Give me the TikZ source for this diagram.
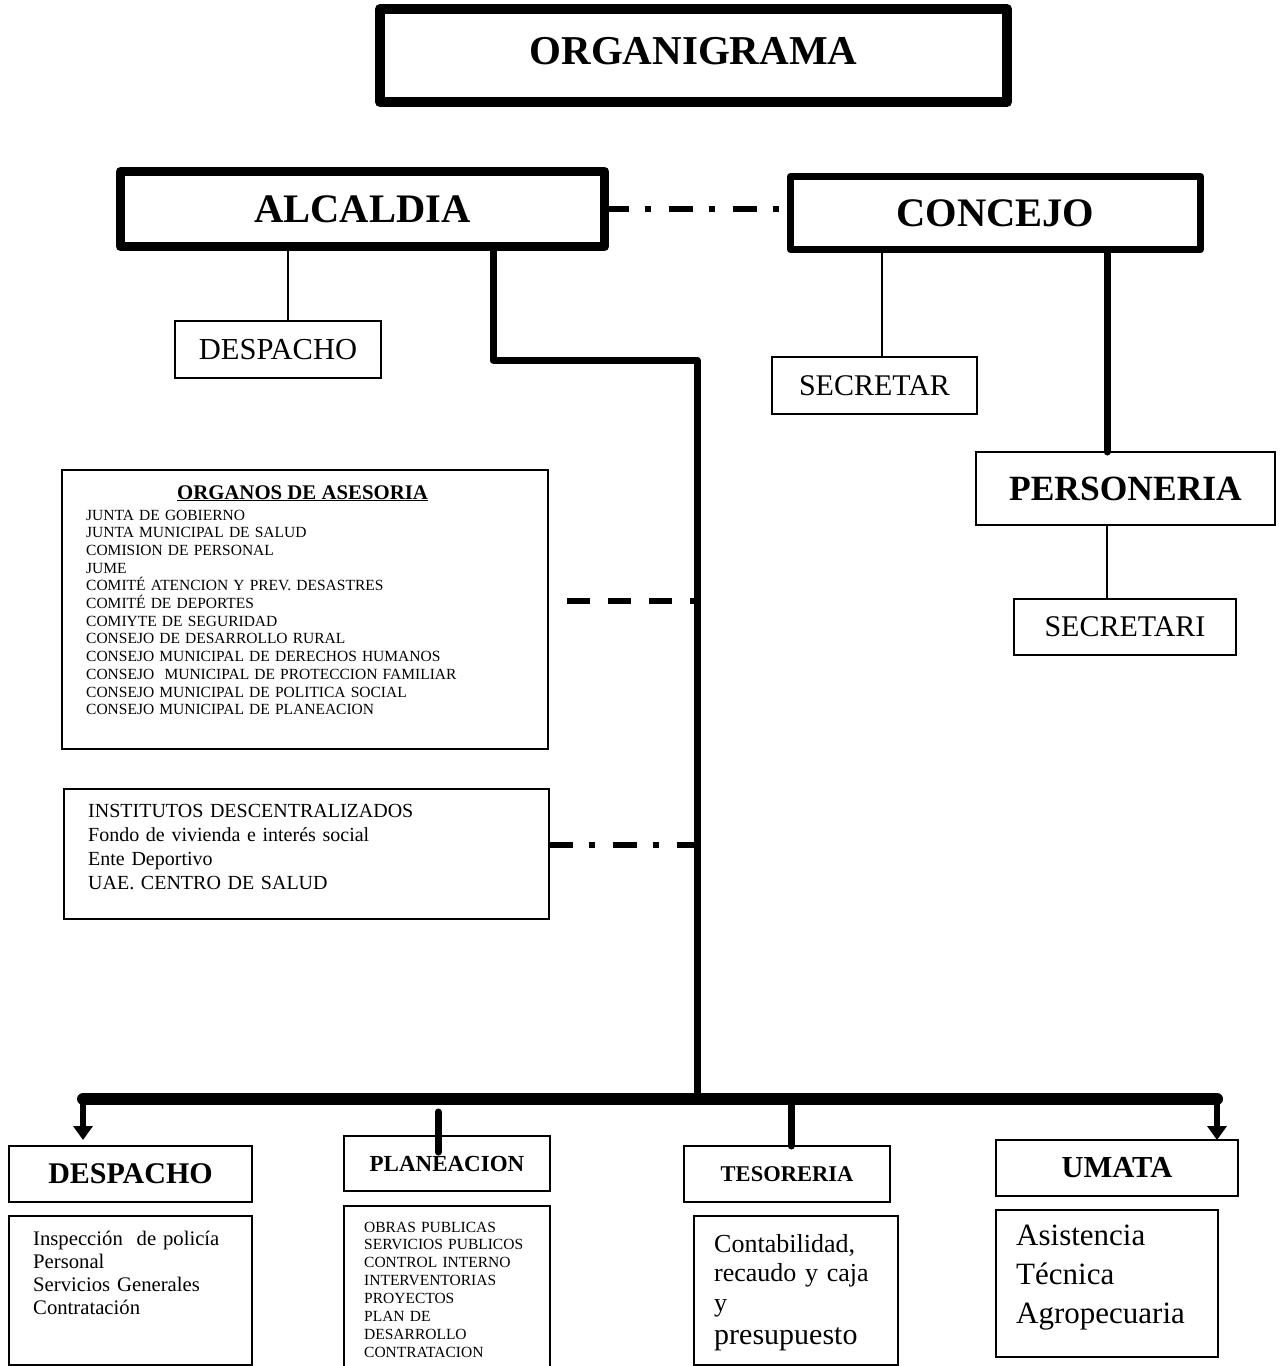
\documentclass[tikz,border=0pt]{standalone}
\usepackage{fontspec}
\setmainfont{Liberation Serif}
\usetikzlibrary{arrows.meta}

\begin{document}
\begin{tikzpicture}[x=1pt,y=-1pt,
		box/.style={draw,line width=1.8pt,inner sep=0pt,outer sep=0pt},
		heavy/.style={box,line width=#1,line join=round},
		titulo/.style={font=\fontsize{40.5}{44}\selectfont\bfseries},
		lista/.style={anchor=base west,inner sep=0pt,align=left,text width=#1},
		bus/.style={line width=12pt,line cap=round},
		rama/.style={line width=7pt,line cap=round,line join=round},
		baja/.style={line width=6pt,-{Triangle[width=19pt,length=14pt]}},
		guion/.style={line width=6pt,dash pattern=on 23pt off 18pt},
		guionpunto/.style={line width=6pt,dash pattern=on 24pt off 16pt on 6pt off 18pt},
		fino/.style={line width=1.5pt}]
			\useasboundingbox (0,0) rectangle (1281,1366);
			\node[heavy=10pt,minimum width=627pt,minimum height=93pt,font=\fontsize{41}{45}\selectfont\bfseries,text depth=10pt] (organigrama) at (693.5,55.5) {ORGANIGRAMA};
			\node[heavy=9pt,minimum width=484pt,minimum height=75pt,titulo] (alcaldia) at (362.5,209) {ALCALDIA};
			\node[heavy=7pt,minimum width=410pt,minimum height=73pt,titulo] (concejo) at (995.5,213) {CONCEJO};
			\node[box,line width=1.5pt,minimum width=206pt,minimum height=57pt,font=\fontsize{30.5}{34}\selectfont] (despachoA) at (278,349.5) {DESPACHO};
			\node[box,line width=1.5pt,minimum width=205pt,minimum height=57pt,font=\fontsize{30}{34}\selectfont] (secretar) at (874.5,385.5) {SECRETAR};
			\node[box,line width=1.5pt,minimum width=299pt,minimum height=73pt,font=\fontsize{35.5}{40}\selectfont\bfseries] (personeria) at (1125.5,488.5) {PERSONERIA};
			\node[box,line width=1.5pt,minimum width=222pt,minimum height=56pt,font=\fontsize{30}{34}\selectfont] (secretari) at (1125,627) {SECRETARI};
			\node[box,line width=1.5pt,minimum width=486pt,minimum height=279pt] (asesoria) at (305,609.5) {};
			\node[anchor=base,inner sep=0pt,font=\fontsize{20.8}{24}\selectfont\bfseries] (asesoriaTit) at (302.5,499) {\underline{ORGANOS DE ASESORIA}};
			\node[lista=440pt,font=\fontsize{15.5}{17.7}\selectfont] (asesoriaTxt) at (86,520) {JUNTA DE GOBIERNO\\JUNTA MUNICIPAL DE SALUD\\COMISION DE PERSONAL\\JUME\\COMITÉ ATENCION Y PREV. DESASTRES\\COMITÉ DE DEPORTES\\COMIYTE DE SEGURIDAD\\CONSEJO DE DESARROLLO RURAL\\CONSEJO MUNICIPAL DE DERECHOS HUMANOS\\CONSEJO\ \ MUNICIPAL DE PROTECCION FAMILIAR\\CONSEJO MUNICIPAL DE POLITICA SOCIAL\\CONSEJO MUNICIPAL DE PLANEACION};
			\node[box,line width=1.5pt,minimum width=485pt,minimum height=130pt] (institutos) at (306.5,854) {};
			\node[lista=440pt,font=\fontsize{20}{24.3}\selectfont] (institutosTxt) at (88,817) {INSTITUTOS DESCENTRALIZADOS\\Fondo de vivienda e interés social\\Ente Deportivo\\UAE. CENTRO DE SALUD};
			\node[box,minimum width=243pt,minimum height=56pt,font=\fontsize{30}{34}\selectfont\bfseries] (despachoB) at (130.5,1174) {DESPACHO};
			\node[box,minimum width=243pt,minimum height=149pt] (despachoLista) at (130.5,1290.5) {};
			\node[lista=215pt,font=\fontsize{20.7}{23.3}\selectfont] (despachoTxt) at (33,1245) {Inspección\ \ de policía\\Personal\\Servicios Generales\\Contratación};
			\node[box,minimum width=206pt,minimum height=55pt,font=\fontsize{23}{26}\selectfont\bfseries] (planeacion) at (447,1163.5) {PLANEACION};
			\node[box,minimum width=206pt,minimum height=166pt] (planeacionLista) at (447,1289) {};
			\node[lista=180pt,font=\fontsize{15.5}{17.9}\selectfont] (planeacionTxt) at (364,1232) {OBRAS PUBLICAS\\SERVICIOS PUBLICOS\\CONTROL INTERNO\\INTERVENTORIAS\\PROYECTOS\\PLAN DE\\DESARROLLO\\CONTRATACION};
			\node[box,minimum width=206pt,minimum height=56pt,font=\fontsize{22.5}{26}\selectfont\bfseries] (tesoreria) at (787,1174) {TESORERIA};
			\node[box,minimum width=204pt,minimum height=149pt] (tesoreriaLista) at (796,1290.5) {};
			\node[lista=180pt,font=\fontsize{26}{29.5}\selectfont] (tesoreriaTxt) at (714,1252) {Contabilidad,\\recaudo y caja\\y\\[3.5pt]{\fontsize{30}{33}\selectfont presupuesto}};
			\node[box,minimum width=242pt,minimum height=56pt,font=\fontsize{30.5}{34}\selectfont\bfseries] (umata) at (1117,1168) {UMATA};
			\node[box,minimum width=222pt,minimum height=147pt] (umataLista) at (1107,1283.5) {};
			\node[lista=200pt,font=\fontsize{31}{39}\selectfont] (umataTxt) at (1016,1245) {Asistencia\\Técnica\\Agropecuaria};
			\coordinate (codo) at (697,360);
			\coordinate (cruce) at (697,1099);
			\coordinate (busL) at (83,1099);
			\coordinate (busR) at (1217,1099);
			\coordinate (tapA) at (697,601);
			\coordinate (asesoriaFin) at (567,601);
			\coordinate (tapI) at (697,845);
			\draw[guionpunto] (alcaldia.east) -- (alcaldia.east -| concejo.west);
			\draw[fino] ([xshift=10pt]despachoA.north) -- ([xshift=10pt]despachoA.north |- alcaldia.south);
			\draw[fino] ([xshift=7.5pt]secretar.north) -- ([xshift=7.5pt]secretar.north |- concejo.south);
			\draw[rama] ([xshift=-18.5pt]personeria.north) -- ([xshift=-18.5pt]personeria.north |- concejo.south);
			\draw[fino] ([xshift=-18.5pt]personeria.south) -- ([xshift=-18.5pt]personeria.south |- secretari.north);
			\draw[rama] ([xshift=130.5pt]alcaldia.south) |- (codo) -- (cruce);
			\draw[guion] (asesoriaFin) -- (tapA);
			\draw[guionpunto] (institutos.east |- tapI) -- (tapI);
			\draw[bus] (busL) -- (busR);
			\draw[baja,shorten >=6pt] (busL) -- (busL |- despachoB.north);
			\draw[baja] (busR) -- (busR |- umata.north);
			\draw[rama] ([xshift=4pt]tesoreria.north) -- ([xshift=4pt]tesoreria.north |- cruce);
			\draw[rama] ([xshift=-9pt,yshift=24pt]planeacion.north) -- ([xshift=-9pt,yshift=-16pt]planeacion.north);
		\end{tikzpicture}
\end{document}
